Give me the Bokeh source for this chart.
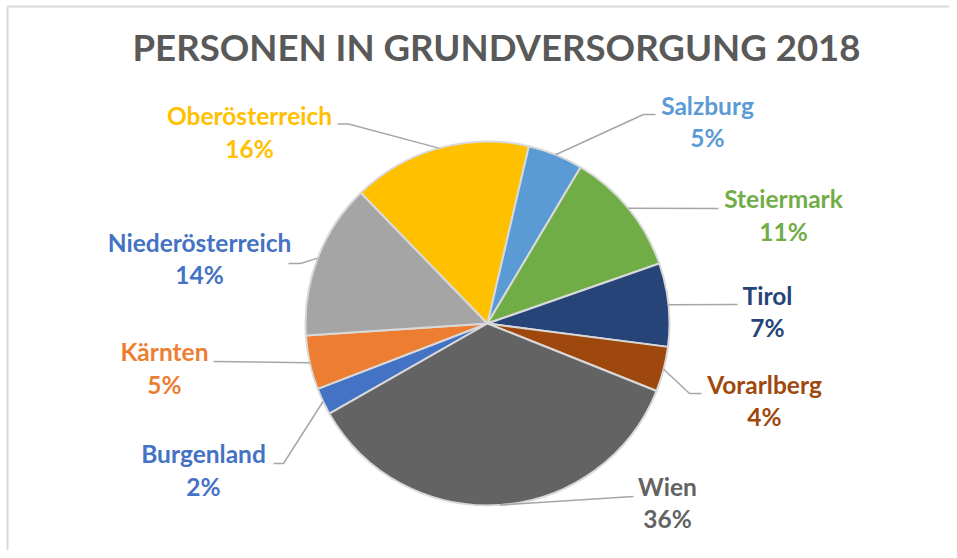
import math
from bokeh.plotting import figure
from bokeh.models import Range1d, Label, ColumnDataSource
from bokeh.core.properties import value
from bokeh.embed import file_html
from bokeh.resources import INLINE

# ---- data ----
regions = ["Burgenland", "Kärnten", "Niederösterreich", "Oberösterreich",
           "Salzburg", "Steiermark", "Tirol", "Vorarlberg", "Wien"]
shares = [2.4, 4.8, 13.8, 15.9, 4.9, 11.1, 7.4, 4.0, 35.7]
slice_colors = ["#4472C4", "#ED7D31", "#A5A5A5", "#FFC000", "#5B9BD5",
                "#70AD47", "#264478", "#9E480E", "#636363"]
label_colors = ["#4472C4", "#ED7D31", "#4472C4", "#FFC000", "#5B9BD5",
                "#70AD47", "#264478", "#9E480E", "#636363"]
title_text = "PERSONEN IN GRUNDVERSORGUNG 2018"

# ---- layout (page pixel coordinates) ----
W, H = 949, 550
def Y(py):  # page y (down) -> data y (up)
    return H - py

cx, cy, R = 487, 323, 182
first_angle = 240.3  # degrees clockwise from 12 o'clock

LABEL_FS = 24.5
TITLE_FS = 36.6
LIFT = 0.42  # baseline correction in em

# label center x, name baseline, percent baseline
label_pos = [(203, 463, 496), (164, 361, 394), (199, 252, 284), (249, 125, 158),
             (707, 115, 147), (783, 208, 241), (767, 305, 337), (764, 394, 426),
             (667, 496, 528)]
# leader start point and optional elbow
leader_start = [(273, 463), (213, 361), (288, 263), (337, 123.5), (655, 114),
                (718, 208), (737, 304), (701, 393), (633, 496)]
leader_elbow = [(283, 463), None, (300, 263), (348, 123.5), (643, 114),
                None, None, (689, 393), None]

p = figure(width=W, height=H, output_backend="svg", toolbar_location=None,
           x_range=Range1d(0, W), y_range=Range1d(0, H),
           min_border=0, outline_line_color=None, background_fill_color="white",
           border_fill_color="white")
p.axis.visible = False
p.grid.visible = False

# chart border (only top and left edges fall inside the window)
p.segment(x0=[7, 7], y0=[Y(6), Y(6)], x1=[W + 5, 7], y1=[Y(6), -5],
          line_color="#D9D9D9", line_width=2)

total = sum(shares)
starts, ends, mids = [], [], []
acc = first_angle
for s in shares:
    a0 = acc
    a1 = acc + s / total * 360.0
    starts.append(a0)
    ends.append(a1)
    mids.append((a0 + a1) / 2)
    acc = a1

src = ColumnDataSource(dict(
    x=[cx] * len(shares), y=[Y(cy)] * len(shares),
    start=[math.radians(90 - e) for e in ends],
    end=[math.radians(90 - s) for s in starts],
    color=slice_colors))
p.wedge(x="x", y="y", radius=R, start_angle="start", end_angle="end",
        direction="anticlock", fill_color="color", line_color="#D9D9D9",
        line_width=2, source=src)

# leader lines
xs, ys = [], []
for i, m in enumerate(mids):
    ex = cx + R * math.sin(math.radians(m))
    ey = cy - R * math.cos(math.radians(m))
    pts = [leader_start[i]]
    if leader_elbow[i] is not None:
        pts.append(leader_elbow[i])
    pts.append((ex, ey))
    xs.append([q[0] for q in pts])
    ys.append([Y(q[1]) for q in pts])
p.multi_line(xs=xs, ys=ys, line_color="#A6A6A6", line_width=1.5)

# labels
pct_labels = [f"{round(s / total * 100)}%" for s in shares]
lift = LIFT * LABEL_FS
lsrc = ColumnDataSource(dict(
    x=[lp[0] for lp in label_pos] * 2,
    y=[Y(lp[1]) + lift for lp in label_pos] + [Y(lp[2]) + lift for lp in label_pos],
    text=regions + pct_labels,
    color=label_colors * 2))
p.text(x="x", y="y", text="text", source=lsrc, text_color="color",
       text_font=value("Lato"), text_font_style="bold",
       text_font_size=f"{LABEL_FS}px",
       text_align="center", text_baseline="alphabetic")

p.add_layout(Label(x=496, y=Y(62) + LIFT * TITLE_FS, text=title_text,
                   text_font="Lato", text_font_style="bold",
                   text_font_size=f"{TITLE_FS}px",
                   text_color="#595959", text_align="center",
                   text_baseline="alphabetic"))

open("out.html", "w").write(file_html(p, INLINE))
